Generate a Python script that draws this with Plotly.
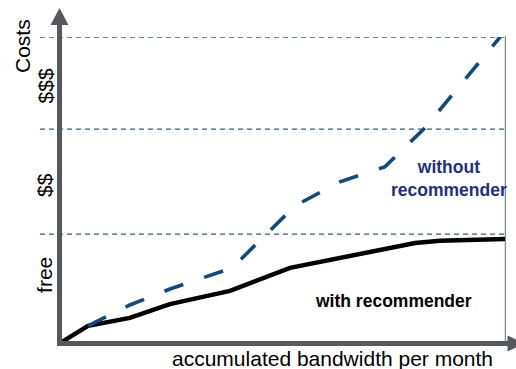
import plotly.graph_objects as go

# ---- data (relative units, 0-100) ----
bandwidth_with = [0, 6.3, 15.7, 24.7, 38.2, 51.7, 79.8, 85.4, 100]
cost_with = [0.3, 5.9, 8.5, 13.0, 17.3, 24.8, 32.9, 33.6, 34.2]

bandwidth_without = [6.3, 15.7, 24.7, 38.7, 52.8, 62.9, 73.0, 82.0, 98.9]
cost_without = [5.9, 12.7, 17.9, 24.8, 45.0, 52.8, 57.7, 70.4, 100]

tier_levels = [35.8, 70.0, 100]
tier_labels = ["free", "$$", "$$$"]
tier_label_pos = [22.5, 51.8, 83.9]

W, H = 516, 369
L, R, T, B = 60, 11, 37, 25
PW, PH = W - L - R, H - T - B


def px(x):
    return (x - L) / PW


def py(y):
    return (H - B - y) / PH


FONT = "Liberation Sans, Arial, sans-serif"
AXIS_COL = "#55595e"

fig = go.Figure()

fig.add_trace(go.Scatter(
    x=bandwidth_with, y=cost_with, mode="lines",
    line=dict(color="#000000", width=4.5), cliponaxis=False,
    showlegend=False, hoverinfo="skip"))

fig.add_trace(go.Scatter(
    x=bandwidth_without, y=cost_without, mode="lines",
    line=dict(color="#124a7a", width=3.6, dash="20px,22px"), cliponaxis=False,
    showlegend=False, hoverinfo="skip"))

shapes = []
# tier dashed lines
for lv in tier_levels:
    shapes.append(dict(type="line", xref="paper", yref="y",
                       x0=px(40), x1=1, y0=lv, y1=lv,
                       line=dict(color="#2f5a7e", width=1.4, dash="5px,4px"),
                       layer="below"))
# right thin vertical line
shapes.append(dict(type="line", xref="paper", yref="paper",
                   x0=px(505.3), x1=px(505.3), y0=py(345), y1=py(36),
                   line=dict(color="#5b6b7f", width=1), layer="below"))
# y axis
shapes.append(dict(type="line", xref="paper", yref="paper",
                   x0=px(59.5), x1=px(59.5), y0=py(346), y1=py(22),
                   line=dict(color=AXIS_COL, width=5)))
shapes.append(dict(type="path", xref="paper", yref="paper",
                   path=f"M {px(59.5)},{py(8)} L {px(50.5)},{py(25)} L {px(68.5)},{py(25)} Z",
                   fillcolor=AXIS_COL, line=dict(width=0)))
# x axis
shapes.append(dict(type="line", xref="paper", yref="paper",
                   x0=px(57), x1=px(510), y0=py(343.5), y1=py(343.5),
                   line=dict(color=AXIS_COL, width=5)))
shapes.append(dict(type="path", xref="paper", yref="paper",
                   path=f"M {px(507.5)},{py(335.5)} L {px(524)},{py(343.5)} L {px(507.5)},{py(351.5)} Z",
                   fillcolor=AXIS_COL, line=dict(width=0)))

annotations = []
for lab, pos in zip(tier_labels, tier_label_pos):
    annotations.append(dict(text=lab, xref="paper", yref="y", x=px(45), y=pos,
                            textangle=-90, showarrow=False, xanchor="center",
                            yanchor="middle", font=dict(family=FONT, size=21, color="#000")))
annotations.append(dict(text="Costs", xref="paper", yref="paper", x=px(22), y=py(46),
                        textangle=-90, showarrow=False, xanchor="center", yanchor="middle",
                        font=dict(family=FONT, size=21, color="#000")))
annotations.append(dict(text="accumulated bandwidth per month", xref="paper", yref="paper",
                        x=px(332), y=py(358), showarrow=False, xanchor="center",
                        yanchor="middle", font=dict(family=FONT, size=21, color="#000")))
annotations.append(dict(text="<b>without<br>recommender</b>", xref="paper", yref="paper",
                        x=px(449), y=py(178), showarrow=False, xanchor="center",
                        yanchor="middle", align="center",
                        font=dict(family=FONT, size=17.5, color="#1f2f7f")))
annotations.append(dict(text="<b>with recommender</b>", xref="paper", yref="paper",
                        x=px(393), y=py(300.5), showarrow=False, xanchor="center",
                        yanchor="middle", font=dict(family=FONT, size=17.5, color="#000")))

fig.update_layout(
    width=W, height=H,
    margin=dict(l=L, r=R, t=T, b=B),
    paper_bgcolor="white", plot_bgcolor="white",
    xaxis=dict(range=[0, 100], visible=False, fixedrange=True),
    yaxis=dict(range=[0, 100], visible=False, fixedrange=True),
    shapes=shapes, annotations=annotations,
    showlegend=False,
)

fig.write_html("out.html", config=dict(displayModeBar=False))
